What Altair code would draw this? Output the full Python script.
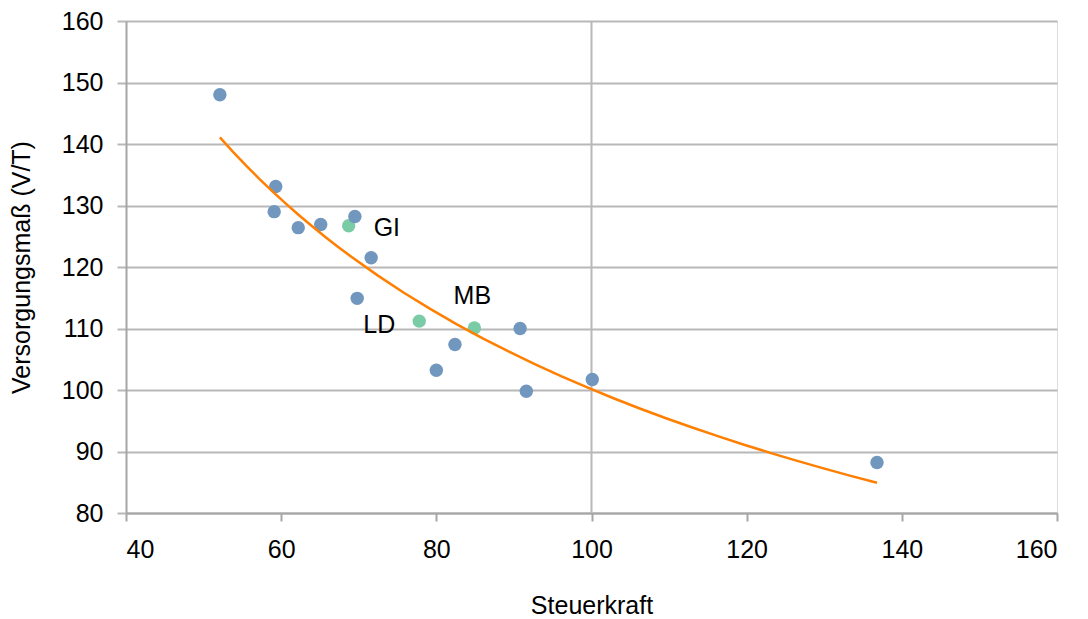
import altair as alt
import pandas as pd

# blue points
blue_x = [52.1, 59.3, 59.1, 62.2, 65.1, 69.5, 71.6, 69.8, 82.4, 80.0, 90.8, 91.6, 100.1, 136.8]
blue_y = [148.0, 133.1, 129.0, 126.4, 126.9, 128.2, 121.5, 114.9, 107.4, 103.2, 110.0, 99.8, 101.7, 88.2]
# green highlighted points
green_label = ["GI", "LD", "MB"]
green_x = [68.7, 77.8, 84.9]
green_y = [126.7, 111.2, 110.1]

blue = pd.DataFrame({"x": blue_x, "y": blue_y, "g": "blue"})
green = pd.DataFrame({"x": green_x, "y": green_y, "g": "green", "label": green_label})
alld = pd.concat([blue, green], ignore_index=True)

FONT = "Liberation Sans"
FS = 25
TFS = 25

xs = alt.Scale(domain=[40, 160], nice=False, zero=False)
ys = alt.Scale(domain=[80, 160], nice=False, zero=False)

xenc = alt.X("x:Q", scale=xs, title="Steuerkraft",
             axis=alt.Axis(values=[40, 60, 80, 100, 120, 140, 160], grid=False,
                           tickSize=8, tickWidth=2, tickColor="#a6a6a6",
                           domainColor="#a6a6a6", domainWidth=2,
                           labelFontSize=FS, labelPadding=16, labelColor="#000",
                           titleFontSize=TFS, titleFontWeight="normal", titlePadding=31,
                           titleColor="#000", labelFont=FONT, titleFont=FONT))
yenc = alt.Y("y:Q", scale=ys, title="Versorgungsmaß (V/T)",
             axis=alt.Axis(values=[80, 90, 100, 110, 120, 130, 140, 150, 160], grid=True,
                           gridColor="#b8b8b8", gridWidth=2,
                           tickSize=9, tickWidth=2, tickColor="#b8b8b8",
                           domainColor="#a6a6a6", domainWidth=2,
                           labelFontSize=FS, labelPadding=14, labelColor="#000",
                           titleFontSize=TFS, titleFontWeight="normal", titlePadding=27,
                           titleColor="#000", labelFont=FONT, titleFont=FONT))

base = alt.Chart(alld)

vline = alt.Chart(pd.DataFrame({"v": [100]})).mark_rule(color="#b8b8b8", strokeWidth=2).encode(
    x=alt.X("v:Q", scale=xs))

green_pts = alt.Chart(green).mark_circle(size=180, opacity=1, color="#7acca6").encode(x=xenc, y=yenc)
blue_pts = alt.Chart(blue).mark_circle(size=180, opacity=1, color="#7297be").encode(x=xenc, y=yenc)

trend = base.transform_regression("x", "y", method="pow").mark_line(
    color="#ff7f00", strokeWidth=2.5).encode(x=xenc, y=yenc)

def lab(name, dx, dy, align):
    return alt.Chart(green).transform_filter(alt.datum.label == name).mark_text(
        dx=dx, dy=dy, align=align, baseline="middle", fontSize=FS, font=FONT, color="#000"
    ).encode(x=alt.X("x:Q", scale=xs), y=alt.Y("y:Q", scale=ys), text="label:N")

chart = alt.layer(
    vline, green_pts, blue_pts, trend,
    lab("GI", 25, 2, "left"), lab("LD", -24, 4, "right"), lab("MB", -2, -32, "center")
).properties(
    width=931, height=492,
    autosize=alt.AutoSizeParams(type="none"),
    padding={"left": 118, "top": 13, "right": 20, "bottom": 106},
).configure_view(stroke=None).configure(background="white")

chart.save("out.html", embed_options={"renderer": "svg", "actions": False})
